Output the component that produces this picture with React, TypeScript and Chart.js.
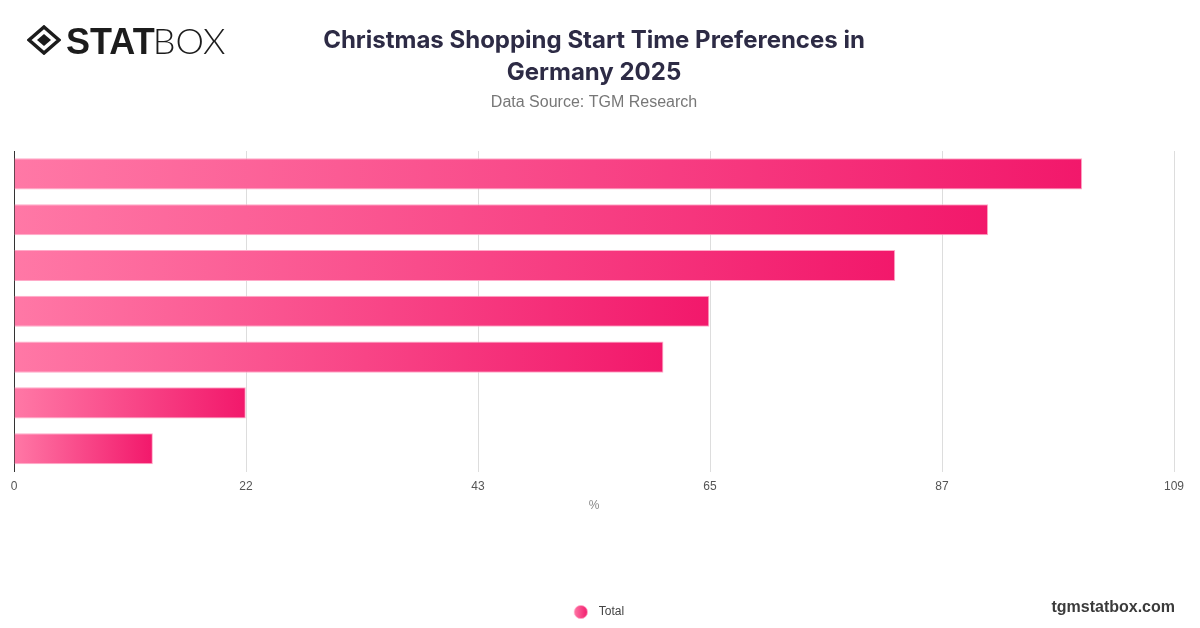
import React, { useEffect, useRef } from "react";
import { Chart, registerables } from "chart.js";

Chart.register(...registerables);

// ---- data ----
const categories = ["Group 1", "Group 2", "Group 3", "Group 4", "Group 5", "Group 6", "Group 7"];
const totalValues = [100, 91.2, 82.5, 65.1, 60.8, 21.7, 13];
const xMax = 108.6;
const xTickValues = [0, 21.72, 43.44, 65.16, 86.88, 108.6];
const seriesName = "Total";
const titleLines = ["Christmas Shopping Start Time Preferences in", "Germany 2025"];
const subtitleText = "Data Source: TGM Research";
const axisTitle = "%";
const watermark = "tgmstatbox.com";

const SANS = '"Liberation Sans", Arial, Helvetica, sans-serif';
const GRAD_START = "#ff78a6";
const GRAD_END = "#f2186b";

function makeLegendIcon(): HTMLCanvasElement {
  const c = document.createElement("canvas");
  c.width = 29;
  c.height = 14;
  const ctx = c.getContext("2d")!;
  const g = ctx.createLinearGradient(10, 0, 24, 0);
  g.addColorStop(0, GRAD_START);
  g.addColorStop(1, GRAD_END);
  ctx.fillStyle = g;
  ctx.beginPath();
  ctx.arc(17, 7, 6.6, 0, Math.PI * 2);
  ctx.fill();
  ctx.strokeStyle = "#ffa6c6";
  ctx.lineWidth = 0.8;
  ctx.stroke();
  return c;
}

export default function App() {
  const ref = useRef<HTMLCanvasElement | null>(null);

  useEffect(() => {
    const canvas = ref.current;
    if (!canvas) return;
    const legendIcon = makeLegendIcon();
    const chart = new Chart(canvas, {
      type: "bar",
      data: {
        labels: categories,
        datasets: [
          {
            label: seriesName,
            data: totalValues,
            backgroundColor: (c: any) => {
              const ch = c.chart;
              const area = ch.chartArea;
              const xs = ch.scales && ch.scales.x;
              if (!area || !xs || c.type !== "data") return "#f8508a";
              const x0 = xs.getPixelForValue(0);
              const x1 = xs.getPixelForValue(c.raw);
              const g = ch.ctx.createLinearGradient(x0, 0, Math.max(x1, x0 + 1), 0);
              g.addColorStop(0, GRAD_START);
              g.addColorStop(1, GRAD_END);
              return g;
            },
            borderColor: "#ffaac8",
            borderWidth: 1,
            categoryPercentage: 0.8,
            barPercentage: 0.85,
          } as any,
        ],
      },
      options: {
        indexAxis: "y",
        responsive: true,
        maintainAspectRatio: false,
        animation: false,
        layout: { padding: { left: 14, right: 26, top: 0, bottom: 0 } },
        scales: {
          x: {
            min: 0,
            max: xMax,
            afterBuildTicks: (s: any) => {
              s.ticks = xTickValues.map((v) => ({ value: v }));
            },
            ticks: {
              callback: (v: any) => String(Math.round(Number(v))),
              font: { family: SANS, size: 12 },
              color: "#555555",
              padding: 8,
              maxRotation: 0,
              autoSkip: false,
            },
            grid: { color: "#dddddd", drawTicks: false },
            border: { display: false },
            title: {
              display: true,
              text: axisTitle,
              color: "#888888",
              font: { family: SANS, size: 12, lineHeight: 1 },
              padding: { top: -2, bottom: 84 },
            },
          },
          y: {
            ticks: { display: false },
            grid: { display: false, drawTicks: false },
            border: { display: true, color: "#333333", width: 1 },
          },
        },
        plugins: {
          title: {
            display: true,
            text: titleLines,
            color: "#2d2b45",
            font: { family: "Inter, sans-serif", size: 24, weight: "bold", lineHeight: 1.3 },
            padding: { top: 25.5, bottom: 0 },
          },
          subtitle: {
            display: true,
            text: subtitleText,
            color: "#777777",
            font: { family: SANS, size: 16, lineHeight: 1.2 },
            padding: { top: 5.5, bottom: 38.4 },
          },
          legend: {
            display: true,
            position: "bottom",
            labels: {
              usePointStyle: true,
              pointStyleWidth: 29,
              boxHeight: 10,
              padding: 10,
              color: "#444444",
              font: { family: SANS, size: 12 },
              generateLabels: (ch: any) => {
                const items = Chart.defaults.plugins.legend.labels.generateLabels(ch);
                return items.map((it: any) => ({ ...it, pointStyle: legendIcon }));
              },
            },
          },
          tooltip: { enabled: true },
        },
      } as any,
    });
    return () => chart.destroy();
  }, []);

  return (
    <div
      style={{
        position: "fixed",
        left: 0,
        top: 0,
        width: 1200,
        height: 628,
        background: "#ffffff",
        overflow: "hidden",
      }}
    >
      <div style={{ position: "absolute", left: 0, top: 0, width: 1200, height: 628 }}>
        <canvas ref={ref} />
      </div>
      <svg
        width="34"
        height="30"
        viewBox="0 0 34 30"
        style={{ position: "absolute", left: 27, top: 25 }}
      >
        <polygon points="17,2 32,15 17,28 2,15" fill="none" stroke="#1c1c1c" strokeWidth="3.5" />
        <polygon points="17,9 24,15 17,21 10,15" fill="#1c1c1c" />
      </svg>
      <div
        style={{
          position: "absolute",
          left: 66,
          top: 22,
          height: 36,
          lineHeight: "36px",
          whiteSpace: "nowrap",
          color: "#1c1c1c",
          display: "flex",
          alignItems: "baseline",
        }}
      >
        <span style={{ fontFamily: SANS, fontWeight: 900, fontSize: 36, letterSpacing: 0 }}>STAT</span>
        <span style={{ fontFamily: "Lato, sans-serif", fontWeight: 300, fontSize: 36, marginLeft: -2 }}>BOX</span>
      </div>
      <div
        style={{
          position: "absolute",
          right: 25,
          top: 599,
          fontFamily: SANS,
          fontWeight: 700,
          fontSize: 16,
          lineHeight: "16px",
          color: "#3b3b3b",
        }}
      >
        {watermark}
      </div>
    </div>
  );
}
